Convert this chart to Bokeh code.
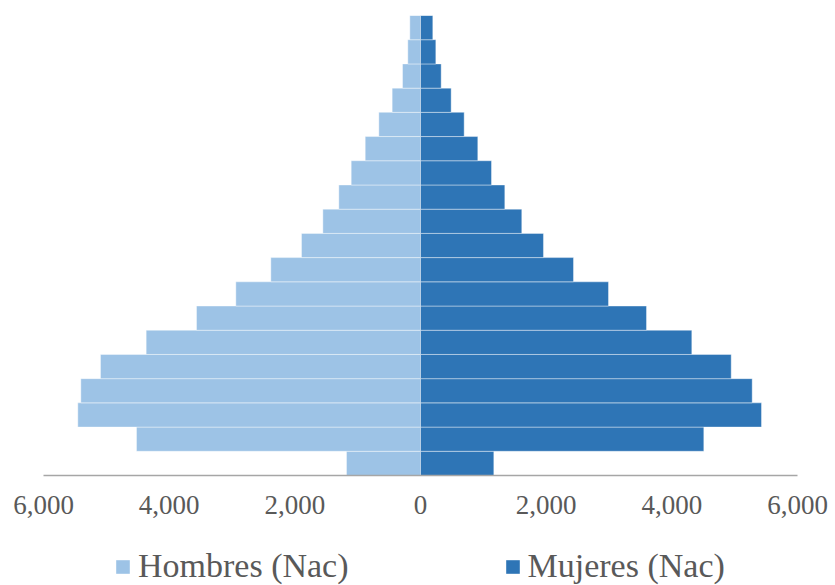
from bokeh.plotting import figure
from bokeh.models import ColumnDataSource, FactorRange, Range1d, FixedTicker, Legend, LegendItem
from bokeh.layouts import column
from bokeh.embed import file_html
from bokeh.resources import INLINE

# Age groups, bottom to top
ages = ["0-4", "5-9", "10-14", "15-19", "20-24", "25-29", "30-34", "35-39", "40-44",
        "45-49", "50-54", "55-59", "60-64", "65-69", "70-74", "75-79", "80-84", "85-89", "90+"]
hombres = [1178, 4520, 5454, 5406, 5093, 4366, 3565, 2939, 2382, 1894,
           1554, 1300, 1103, 880, 663, 451, 286, 202, 170]
mujeres = [1167, 4509, 5427, 5279, 4945, 4318, 3597, 2992, 2435, 1957,
           1612, 1342, 1130, 912, 695, 488, 329, 244, 196]
tick_values = [-6000, -4000, -2000, 0, 2000, 4000, 6000]
tick_labels = ["6,000", "4,000", "2,000", "0", "2,000", "4,000", "6,000"]
series_names = ["Hombres (Nac)", "Mujeres (Nac)"]
colors = ["#9DC3E6", "#2E75B6"]

src = ColumnDataSource(dict(
    age=ages,
    h_left=[-v for v in hombres],
    zero=[0] * len(ages),
    m_right=mujeres,
))

FONT = "Liberation Serif"
TXT = "#595959"

p = figure(width=835, height=538, output_backend="svg", toolbar_location=None,
           x_range=Range1d(-6000, 6000), y_range=FactorRange(*ages, range_padding=0),
           y_axis_location=None, title=None,
           min_border_left=43, min_border_right=38, min_border_top=15, min_border_bottom=63)
p.outline_line_color = None
p.xgrid.visible = False
p.ygrid.visible = False

p.hbar(y="age", left="h_left", right="zero", height=1.0, source=src,
       fill_color=colors[0], line_color="white", line_width=0.8, line_alpha=0.5)
p.hbar(y="age", left="zero", right="m_right", height=1.0, source=src,
       fill_color=colors[1], line_color="white", line_width=0.8, line_alpha=0.5)

ax = p.xaxis[0]
ax.ticker = FixedTicker(ticks=tick_values)
ax.major_label_overrides = {v: l for v, l in zip(tick_values, tick_labels)}
ax.major_tick_line_color = None
ax.minor_tick_line_color = None
ax.major_tick_out = 0
ax.major_tick_in = 0
ax.major_label_standoff = 20
ax.axis_line_color = "#A6A6A6"
ax.axis_line_width = 1.5
ax.major_label_text_font = FONT
ax.major_label_text_font_size = "27px"
ax.major_label_text_color = TXT

# Legend strip below the chart (its frame is aligned with the chart's frame by the column)
lg = figure(width=835, height=47, output_backend="svg", toolbar_location=None,
            x_range=Range1d(0, 1), y_range=Range1d(0, 1),
            x_axis_location=None, y_axis_location=None, title=None,
            min_border_left=0, min_border_right=0, min_border_top=0, min_border_bottom=0)
lg.outline_line_color = None
lg.xgrid.visible = False
lg.ygrid.visible = False
items = []
for name, col in zip(series_names, colors):
    # one swatch sample placed outside the visible range; only its legend glyph shows
    swatch = ColumnDataSource(dict(x=[-5], y=[-5]))
    rr = lg.rect(x="x", y="y", width=0.1, height=0.1, source=swatch,
                 fill_color=col, line_color=None)
    items.append(LegendItem(label=name, renderers=[rr]))

legend = Legend(items=items, orientation="horizontal", location=(71, 0),
                glyph_width=17, glyph_height=17, label_standoff=7, label_width=200,
                spacing=155, padding=0, margin=0,
                border_line_color=None, background_fill_alpha=0,
                label_text_font=FONT, label_text_font_size="34px", label_text_color=TXT)
lg.add_layout(legend, "center")

layout = column(p, lg, spacing=0)
open("out.html", "w").write(file_html(layout, INLINE))
